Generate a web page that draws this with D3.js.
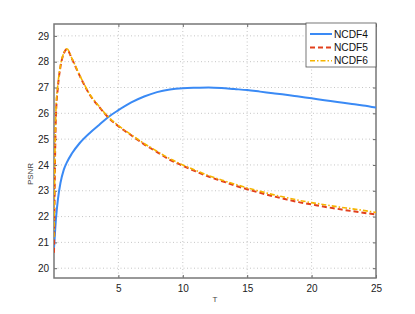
<!DOCTYPE html>
<html>
<head>
<meta charset="utf-8">
<script src="https://cdn.jsdelivr.net/npm/d3@7"></script>
<style>
  body { margin: 0; background: #fff; }
  svg { font-family: "Liberation Sans", Arial, sans-serif; }
  .grid line { stroke: #b8b8b8; stroke-width: 0.8; stroke-dasharray: 1,2.5; }
  .tick text { fill: #222; font-size: 10px; }
</style>
</head>
<body>
<div id="chart"></div>
<script>
// values
var T = [0, 0.03, 0.08, 0.15, 0.3, 0.5, 0.75, 1, 1.4, 2, 2.8, 3.5, 4.2, 5, 6, 7, 8, 9, 10,
         11, 12, 13, 14, 15, 16, 17, 18, 19, 20, 21, 22, 23, 24, 25];
var ncdf4 = [20.8, 21.0, 21.4, 21.9, 22.65, 23.3, 23.8, 24.1, 24.45, 24.85, 25.25, 25.55, 25.85, 26.12,
             26.42, 26.65, 26.82, 26.92, 26.97, 26.99, 27.0, 26.98, 26.94, 26.9, 26.84, 26.78, 26.72,
             26.65, 26.58, 26.51, 26.44, 26.37, 26.3, 26.22];
var ncdf5 = [20.6, 22.0, 24.2, 25.9, 27.0, 27.8, 28.3, 28.48, 28.1, 27.45, 26.7, 26.25, 25.85, 25.5,
             25.15, 24.8, 24.5, 24.2, 23.97, 23.75, 23.55, 23.38, 23.21, 23.06, 22.92, 22.79, 22.67,
             22.56, 22.47, 22.38, 22.3, 22.22, 22.15, 22.08];
var ncdf6 = [21.2, 22.6, 24.6, 26.1, 27.1, 27.85, 28.32, 28.5, 28.12, 27.47, 26.72, 26.27, 25.87, 25.52,
             25.17, 24.83, 24.53, 24.24, 24.0, 23.79, 23.59, 23.42, 23.26, 23.11, 22.98, 22.85, 22.74,
             22.63, 22.54, 22.46, 22.38, 22.31, 22.24, 22.16];
var seriesNames = ["NCDF4", "NCDF5", "NCDF6"];
var xTicks = [5, 10, 15, 20, 25];
var yTicks = [20, 21, 22, 23, 24, 25, 26, 27, 28, 29];

var W = 415, H = 314;
var margin = {top: 24, right: 39, bottom: 36, left: 54},
    width = W - margin.left - margin.right,
    height = H - margin.top - margin.bottom;

var svg = d3.select("#chart").append("svg")
    .attr("width", W)
    .attr("height", H)

var g = svg.append("g").attr("transform", "translate(" + margin.left + "," + margin.top + ")");

var x = d3.scaleLinear().domain([0, 25]).range([0, width]);
var y = d3.scaleLinear().domain([19.62, 29.46]).range([height, 0]);

// dotted grid
g.append("g").attr("class", "grid")
  .selectAll("line").data(xTicks.filter(d => d < 25)).join("line")
    .attr("x1", d => x(d)).attr("x2", d => x(d))
    .attr("y1", 0).attr("y2", height);
g.append("g").attr("class", "grid")
  .selectAll("line").data(yTicks).join("line")
    .attr("x1", 0).attr("x2", width)
    .attr("y1", d => y(d)).attr("y2", d => y(d));

// axes, ticks inward like matlab
var tl = 3;
var xAxis = g.append("g").attr("transform", "translate(0," + height + ")")
  .call(d3.axisBottom(x).tickValues(xTicks).tickSize(-tl).tickPadding(7));
var yAxis = g.append("g")
  .call(d3.axisLeft(y).tickValues(yTicks).tickSize(-tl).tickPadding(5));
var xTop = g.append("g")
  .call(d3.axisTop(x).tickValues(xTicks).tickSize(-tl).tickFormat(""));
var yRight = g.append("g").attr("transform", "translate(" + width + ",0)")
  .call(d3.axisRight(y).tickValues(yTicks).tickSize(-tl).tickFormat(""));
[xAxis, yAxis, xTop, yRight].forEach(a => {
  a.select(".domain").remove();
  a.selectAll(".tick line").attr("stroke", "#666");
});

// frame
g.append("rect")
  .attr("width", width).attr("height", height)
  .attr("fill", "none").attr("stroke", "#777").attr("stroke-width", 1.5);

// lines
var styles = [
  {data: ncdf4, color: "#3a8af5", dash: null, w: 2},
  {data: ncdf5, color: "#e2401c", dash: "5,3", w: 2},
  {data: ncdf6, color: "#f5b400", dash: "5,2,1.5,2", w: 1.6}
];
var line = d3.line().x(d => x(d[0])).y(d => y(d[1])).curve(d3.curveMonotoneX);
var clip = g.append("clipPath").attr("id", "clip").append("rect").attr("width", width).attr("height", height);
styles.forEach(s => {
  g.append("path")
    .attr("clip-path", "url(#clip)")
    .attr("d", line(T.map((t, i) => [t, s.data[i]])))
    .attr("fill", "none")
    .attr("stroke", s.color)
    .attr("stroke-width", s.w)
    .attr("stroke-dasharray", s.dash);
});

// axis labels
g.append("text")
  .attr("x", width / 2).attr("y", height + 24)
  .attr("text-anchor", "middle").attr("font-size", "8px").attr("fill", "#444")
  .text("T");
g.append("text")
  .attr("transform", "translate(-21," + (height / 2 + 23) + ") rotate(-90)")
  .attr("text-anchor", "middle").attr("font-size", "8px").attr("fill", "#444")
  .text("PSNR");

// legend
var lg = g.append("g").attr("transform", "translate(" + (width - 70) + ",-1)");
lg.append("rect").attr("width", 70).attr("height", 44)
  .attr("fill", "#fff").attr("stroke", "#555").attr("stroke-width", 0.8);
styles.forEach((s, i) => {
  var yy = 11 + i * 13.4;
  lg.append("line").attr("x1", 4).attr("x2", 26).attr("y1", yy).attr("y2", yy)
    .attr("stroke", s.color).attr("stroke-width", s.w).attr("stroke-dasharray", s.dash);
  lg.append("text").attr("x", 28).attr("y", yy + 3.6)
    .attr("font-size", "10.2px").attr("fill", "#111")
    .text(seriesNames[i]);
});
</script>
</body>
</html>
